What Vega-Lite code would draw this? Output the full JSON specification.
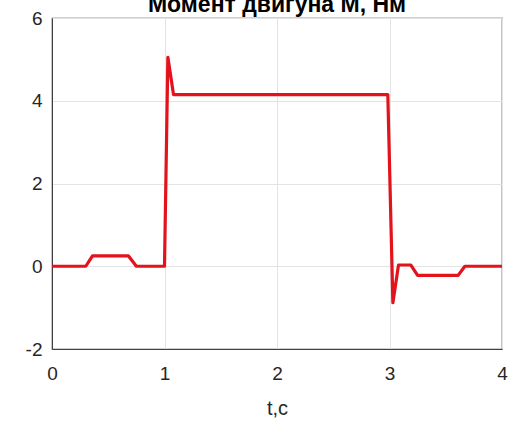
{
  "$schema": "https://vega.github.io/schema/vega-lite/v6.json",
  "width": 450,
  "height": 331,
  "autosize": {"type": "none"},
  "padding": {"left": 52, "top": 18, "right": 20, "bottom": 75},
  "background": "white",
  "title": {
    "text": "Момент двигуна М, Нм",
    "frame": "group",
    "anchor": "middle",
    "baseline": "alphabetic",
    "offset": 0,
    "dy": 26,
    "font": "Liberation Sans",
    "fontSize": 23,
    "fontWeight": "bold",
    "color": "#000000"
  },
  "config": {
    "view": {"stroke": "#404040", "strokeWidth": 1.2},
    "axis": {
      "labelFont": "Liberation Sans",
      "titleFont": "Liberation Sans",
      "labelFontSize": 19,
      "titleFontSize": 20,
      "labelColor": "#262626",
      "titleColor": "#262626",
      "titleFontWeight": "normal",
      "gridColor": "#e3e3e3",
      "gridWidth": 1,
      "domainColor": "#404040",
      "ticks": false
    }
  },
  "data": {
    "values": [
      {"t": 0, "M": 0},
      {"t": 0.30, "M": 0},
      {"t": 0.36, "M": 0.25},
      {"t": 0.68, "M": 0.25},
      {"t": 0.75, "M": 0},
      {"t": 1.0, "M": 0},
      {"t": 1.03, "M": 5.05},
      {"t": 1.08, "M": 4.15},
      {"t": 2.985, "M": 4.15},
      {"t": 3.03, "M": -0.88},
      {"t": 3.08, "M": 0.03},
      {"t": 3.19, "M": 0.03},
      {"t": 3.25, "M": -0.22},
      {"t": 3.61, "M": -0.22},
      {"t": 3.67, "M": 0},
      {"t": 4, "M": 0}
    ]
  },
  "mark": {"type": "line", "color": "#e3121b", "strokeWidth": 3.2, "strokeJoin": "round"},
  "encoding": {
    "x": {
      "field": "t",
      "type": "quantitative",
      "scale": {"domain": [0, 4], "nice": false},
      "axis": {"values": [0, 1, 2, 3, 4], "title": "t,c", "labelPadding": 15, "titlePadding": 15, "labelFlush": false}
    },
    "y": {
      "field": "M",
      "type": "quantitative",
      "scale": {"domain": [-2, 6], "nice": false, "zero": false},
      "axis": {"values": [-2, 0, 2, 4, 6], "title": null, "labelPadding": 10, "labelFlush": false, "labelExpr": "'' + datum.value"}
    }
  }
}
